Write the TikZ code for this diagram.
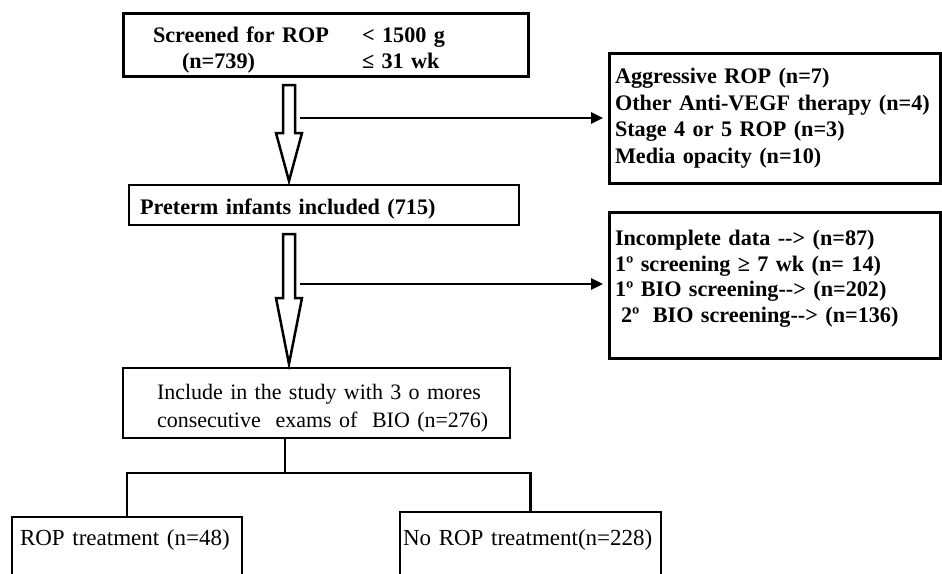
\documentclass[tikz,border=0pt]{standalone}
\usepackage{fontspec}
\setmainfont{Liberation Serif}
\usetikzlibrary{arrows.meta,calc}
\newcommand{\dashto}{-\kern0pt-\kern0pt>}
\newcommand{\hollowArrow}[3]{% #1: box above
                             % #2: box below
                             % #3: length of head
    \coordinate (ha_top)  at ($(#1.south -| shaft)+(0,9)$);
    \coordinate (ha_tip)  at ($(#2.north -| shaft)+(0,-4)$);
    \coordinate (ha_head) at ($(ha_tip)+(0,-#3)$);
    \draw[hollow] ($(ha_top)+(-6,0)$) -- ($(ha_top)+(6,0)$) -- ($(ha_head)+(6,0)$)
        -- ($(ha_head)+(13,0)$) -- (ha_tip) -- ($(ha_head)+(-13,0)$)
        -- ($(ha_head)+(-6,0)$) -- cycle;
   }

\begin{document}
\begin{tikzpicture}[x=1pt,y=-1pt,
    box/.style={draw, line width=2.5pt, rectangle, anchor=north west,
                outer sep=0pt, inner ysep=0pt, align=left},
    heavybox/.style={box, line width=3pt},
    hollow/.style={line width=2.5pt, fill=white, line join=miter},
    link/.style={line width=2.5pt},
    exclude/.style={line width=2.5pt, -{Triangle[length=12pt,width=11pt]}, shorten >=6pt},
    bold/.style={font=\fontsize{22.2}{26.5}\selectfont\bfseries},
    plain/.style={font=\fontsize{23}{28}\selectfont}]

\useasboundingbox (0,0) rectangle (942,573);
\clip (0,0) rectangle (942,573);

\coordinate (shaft) at (289,0);
\coordinate (out1) at (300,118);
\coordinate (out2) at (300,284);
\coordinate (split) at (285,473);


\node (screen) [heavybox, bold, minimum width=405, text height=29, text depth=34,
                inner xsep=30, text width=345, at={(123,13)}]
      {\makebox[209pt][l]{Screened for ROP}< 1500 g\\
       \makebox[209pt][l]{\hspace{29pt}(n=739)}≤ 31 wk};
\node (preterm) [box, bold, minimum width=390, text height=29, text depth=11,
                 inner xsep=11, text width=368, at={(129,185)}]
      {Preterm infants included (715)};
\node (excl1) [heavybox, bold, minimum width=331, minimum height=130,
               inner xsep=6, text width=319, at={(609,53)}]
      {Aggressive ROP (n=7)\\
       Other Anti-VEGF therapy (n=4)\\
       Stage 4 or 5 ROP (n=3)\\
       Media opacity (n=10)};
\node (excl2) [heavybox, bold, font=\fontsize{22.2}{25.7}\selectfont\bfseries,
               minimum width=331, minimum height=146,
               inner xsep=6, text width=319, at={(609,212)}]
      {Incomplete data \dashto{} (n=87)\\
       1º screening ≥ 7 wk (n= 14)\\
       1º BIO screening\dashto{} (n=202)\\
       \hspace{6pt}2º\hspace{6pt} BIO screening\dashto{} (n=136)\\[-8pt]\mbox{}};
\node (incl) [box, font=\fontsize{22}{28}\selectfont, minimum width=387,
              text height=31, text depth=39,
              inner xsep=34, text width=319, at={(123,368)}]
      {\mbox{Include in the study with 3 o mores}\\
       \mbox{consecutive\ \ exams of\ \ BIO (n=276)}};
\node (treat) [box, plain, minimum width=230, text height=28, text depth=70,
               inner xsep=8, text width=214, at={(12,517)}]
      {ROP treatment (n=48)};
\node (notreat) [box, plain, minimum width=261, text height=33, text depth=70,
                 inner xsep=3, text width=255, at={(400,512)}]
      {No ROP treatment(n=228)};


\draw[exclude] (out1) -- (out1 -| excl1.west);
\draw[exclude] (out2) -- (out2 -| excl2.west);

\draw[link] (incl.south -| split) -- (split);
\draw[link] (treat.north) -- (treat.north |- split) -- (notreat.north |- split) -- (notreat.north);


  \hollowArrow{screen}{preterm}{48};
  \hollowArrow{preterm}{incl}{66};
\end{tikzpicture}
\end{document}
